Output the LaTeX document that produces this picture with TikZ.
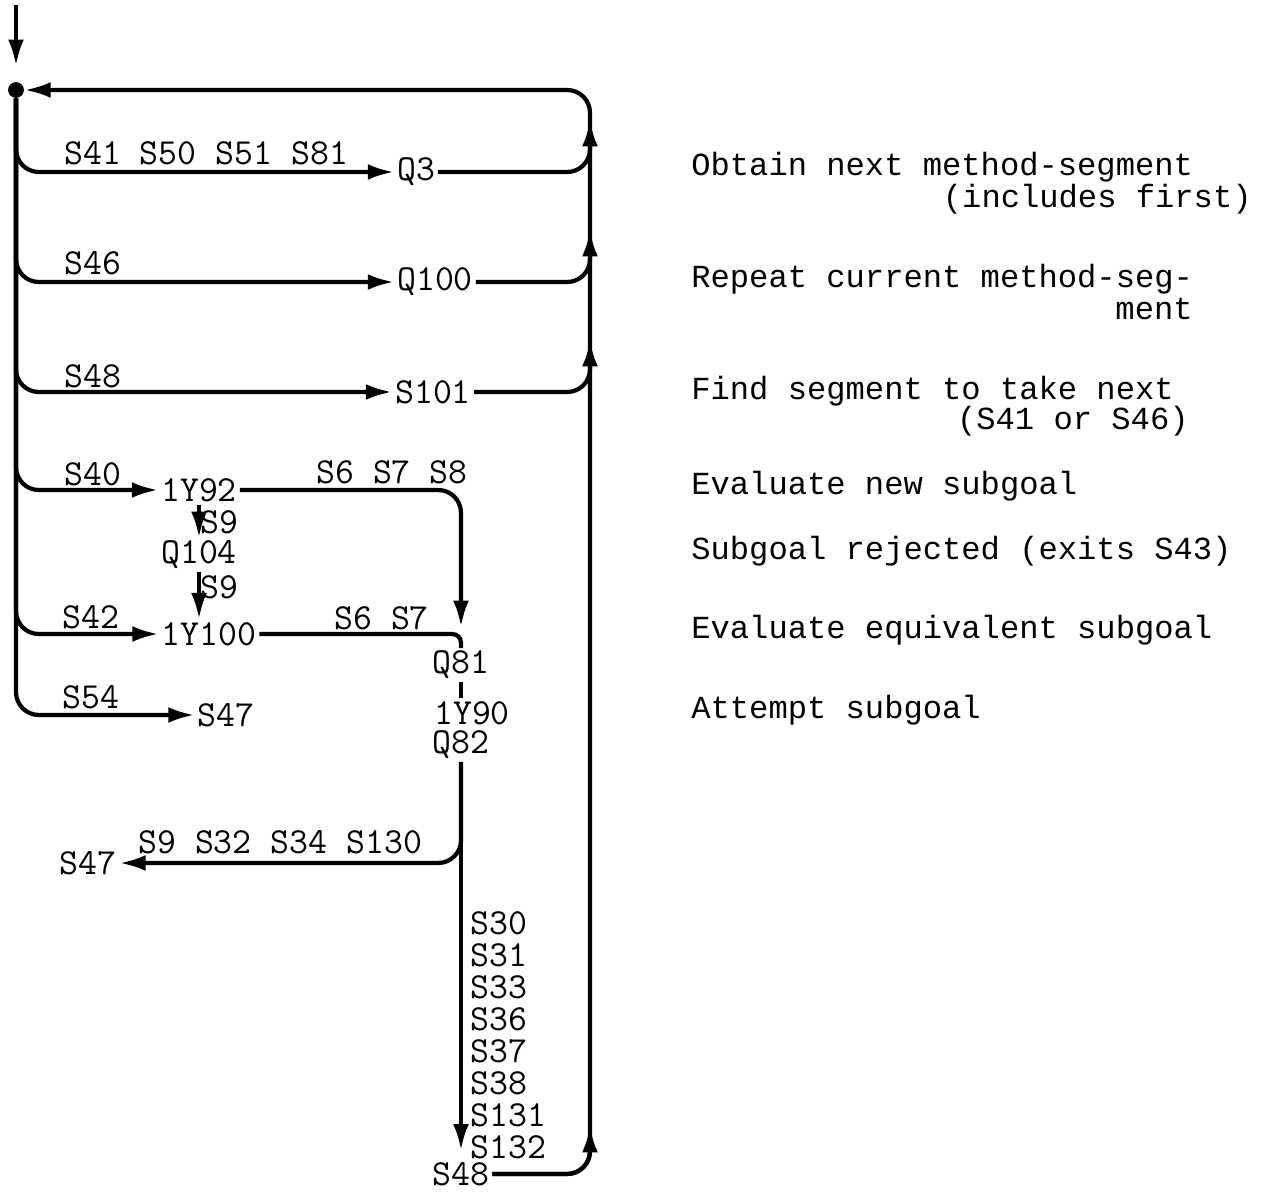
\documentclass[tikz,border=0pt]{standalone}
\usepackage{fontspec}
\usepackage{tikz}
\usetikzlibrary{arrows.meta}
\newfontfamily\descfont{Liberation Mono}
\tikzset{
    ln/.style   ={line width=2.4pt, draw=black},
    ar/.style   ={ln, -{Latex[length=15pt, width=9pt]}},
    rc/.style   ={rounded corners=13pt},
    stn/.style  ={font=\fontsize{20.9pt}{25pt}\selectfont\ttfamily, inner sep=1.5pt},
    lbl/.style  ={font=\fontsize{20.9pt}{25pt}\selectfont\ttfamily, inner sep=0pt, anchor=west},
    desc/.style ={font=\fontsize{18.3pt}{22pt}\selectfont\descfont, inner sep=0pt, anchor=west},
    descr/.style={desc, anchor=east},
    junct/.style={circle, fill=black, inner sep=0pt, minimum size=9pt}
}

\begin{document}
\begin{tikzpicture}[x=0.02cm, y=-0.02cm]
  \useasboundingbox (0,0) rectangle (1262,1192);

  % entry point and the junction on the left trunk
  \coordinate (entry) at (16,5);
  \node[junct] (dot) at (16,90) {};
  \coordinate (rtop) at (590,90);

  % stations
  \node[stn] (q3)   at (416,172) {Q3};
  \node[stn] (q100) at (435,282) {Q100};
  \node[stn] (s101) at (433,392) {S101};
  \node[stn] (y92)  at (199,490) {1Y92};
  \node[stn] (q104) at (199,555) {Q104};
  \node[stn] (y100) at (209,634) {1Y100};
  \node[stn] (s47a) at (226,715) {S47};
  \node[stn] (q81)  at (461,665) {Q81};
  \node[stn] (y90)  at (472,713) {1Y90};
  \node[stn] (q82)  at (461,745) {Q82};
  \node[stn] (s47b) at (88,863)  {S47};
  \node[stn] (s48)  at (461,1174) {S48};

  % arrow tips on the right trunk
  \coordinate (up1) at (590,120);
  \coordinate (up2) at (590,230);
  \coordinate (up3) at (590,340);
  \coordinate (up4) at (590,1126);
  \coordinate (j81) at (461,627);

  % branch labels
  \node[lbl] (l3)   at (64,153)  {S41 S50 S51 S81};
  \node[lbl] (l100) at (64,263)  {S46};
  \node[lbl] (l101) at (64,376)  {S48};
  \node[lbl] (l92)  at (64,474)  {S40};
  \node[lbl] (l678) at (316,472) {S6 S7 S8};
  \node[lbl] (l9a)  at (200,522) {S9};
  \node[lbl] (l9b)  at (200,587) {S9};
  \node[lbl] (l42)  at (62,617)  {S42};
  \node[lbl] (l67)  at (334,618) {S6 S7};
  \node[lbl] (l54)  at (62,697)  {S54};
  \node[lbl] (l130) at (138,842) {S9 S32 S34 S130};
  \node[lbl, align=left, font=\fontsize{20.9pt}{18.2pt}\selectfont\ttfamily] (lcol) at (470,1035)
       {S30\\S31\\S33\\S36\\S37\\S38\\S131\\S132};

  % descriptions
  \node[desc]  (d1)  at (691,167) {Obtain next method-segment};
  \node[descr] (d1b) at (1252,199) {(includes first)};
  \node[desc]  (d2)  at (691,279) {Repeat current method-seg-};
  \node[descr] (d2b) at (1193,309) {ment};
  \node[desc]  (d3)  at (691,391) {Find segment to take next};
  \node[descr] (d3b) at (1189,421) {(S41 or S46)};
  \node[desc]  (d4)  at (691,486) {Evaluate new subgoal};
  \node[desc]  (d5)  at (691,551) {Subgoal rejected (exits S43)};
  \node[desc]  (d6)  at (691,630) {Evaluate equivalent subgoal};
  \node[desc]  (d7)  at (691,710) {Attempt subgoal};

  % entry and return loop
  \draw[ar, shorten >=9pt] (entry) -- (dot);
  \draw[ar, rc] (s48) -| (rtop) -- (dot);

  % left trunk out to each station
  \draw[ar, rc] (dot) |- (q3);
  \draw[ar, rc] (dot) |- (q100);
  \draw[ar, rc] (dot) |- (s101);
  \draw[ar, rc] (dot) |- (y92);
  \draw[ar, rc] (dot) |- (y100);
  \draw[ar, rc] (dot) |- (s47a);

  % back into the right trunk
  \draw[ar, rc] (q3)   -| (up1);
  \draw[ar, rc] (q100) -| (up2);
  \draw[ar, rc] (s101) -| (up3);
  \draw[ar, rc] (s48)  -| (up4);

  % subgoal chain
  \draw[ar] (y92) -- (q104);
  \draw[ar] (q104) -- (q104 |- y100.north);
  \draw[ar, rc] (y92) -| (j81);
  \draw[ln, rounded corners=5pt] (y100) -| (q81);
  \draw[ln] (q81.south) -- (q81.south |- y90.north);
  \draw[ar, shorten >=5pt] (q82) -- (s48);
  \draw[ar, rc] (q82) |- (s47b);
\end{tikzpicture}
\end{document}
